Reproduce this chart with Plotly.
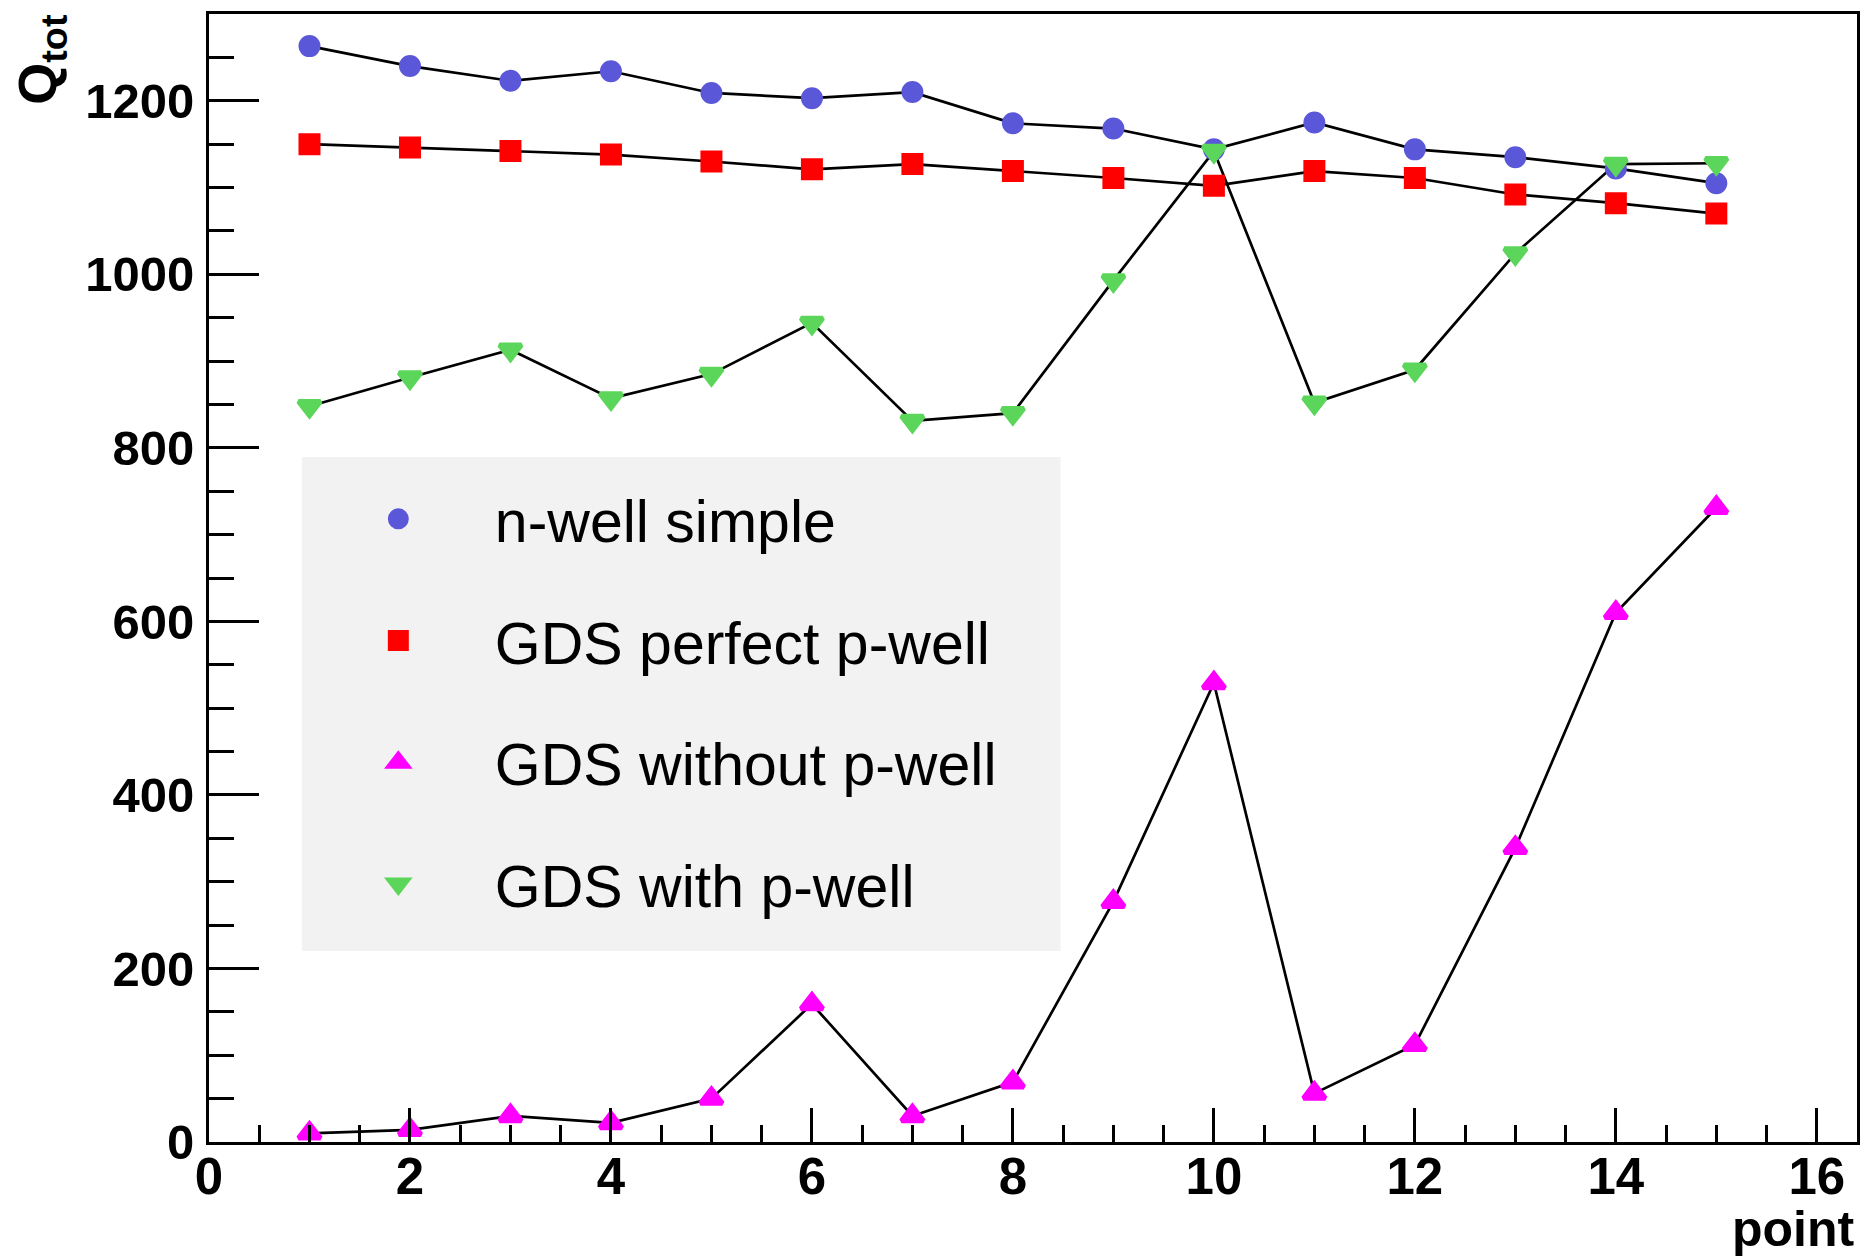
import plotly.graph_objects as go

points = list(range(1, 16))
nwell_simple = [1263, 1240, 1223, 1234, 1209, 1203, 1210, 1174, 1168, 1144, 1175, 1144, 1135, 1122, 1105]
gds_perfect = [1150, 1146, 1142, 1138, 1130, 1121, 1127, 1119, 1111, 1102, 1119, 1111, 1092, 1082, 1070]
gds_without = [10, 14, 30, 22, 50, 159, 30, 69, 277, 529, 56, 112, 339, 610, 731]
gds_with = [848, 881, 913, 857, 885, 944, 831, 840, 993, 1142, 852, 890, 1024, 1127, 1128]

series_names = ["n-well simple", "GDS perfect p-well", "GDS without p-well", "GDS with p-well"]
series_values = [nwell_simple, gds_perfect, gds_without, gds_with]
colors = ["#5a58d8", "#ff0000", "#ff00ff", "#5bd65b"]
symbols = ["circle", "square", "triangle-up", "triangle-down"]
sizes = [17, 17, 19, 19]

W, H = 1866, 1257
L, R, T, B = 209, 6, 14, 115
PW = W - L - R
PH = H - T - B

def px(x):
    return (x - L) / PW

def py(y):
    return (H - B - y) / PH

FONT = "Liberation Sans, Arial, Helvetica, sans-serif"

fig = go.Figure()
# connecting lines (not in legend)
for i, (name, vals) in enumerate(zip(series_names, series_values)):
    fig.add_trace(go.Scatter(
        x=points, y=vals, mode="lines", showlegend=False, hoverinfo="skip",
        line=dict(color="black", width=2.7),
    ))
# markers (legend entries)
for i, (name, vals) in enumerate(zip(series_names, series_values)):
    fig.add_trace(go.Scatter(
        x=points, y=vals, name=name, mode="markers",
        legendgroup=f"g{i}",
        marker=dict(color=colors[i], symbol=symbols[i], size=sizes[i],
                    line=dict(width=5, color=colors[i])),
    ))

axis_common = dict(
    showline=True, linecolor="black", linewidth=3, mirror=True,
    ticks="inside", tickcolor="black", tickwidth=2.5,
    showgrid=False, zeroline=False,
)

fig.update_xaxes(range=[0, 16.4], dtick=2, tick0=0, ticklen=34,
                 minor=dict(dtick=0.5, tick0=0, ticklen=17, ticks="inside", tickcolor="black", tickwidth=2.5, showgrid=False),
                 ticklabelstandoff=-12,
                 tickfont=dict(family=FONT, size=51, color="black", weight="bold"),
                 **axis_common)
fig.update_yaxes(range=[0, 1300], dtick=200, tick0=0, ticklen=50,
                 minor=dict(dtick=50, tick0=0, ticklen=25, ticks="inside", tickcolor="black", tickwidth=2.5, showgrid=False),
                 ticklabelstandoff=2,
                 tickfont=dict(family=FONT, size=49, color="black", weight="bold"),
                 **axis_common)

fig.add_shape(type="rect", xref="paper", yref="paper",
              x0=px(302), x1=px(1062), y0=py(951), y1=py(457),
              fillcolor="#f2f2f2", line=dict(width=0), layer="below")

fig.add_annotation(text="Q<sub>tot</sub>", xref="paper", yref="paper",
                   x=px(40), y=py(12), xanchor="center", yanchor="top",
                   textangle=-90, showarrow=False,
                   font=dict(family=FONT, size=54, color="black", weight="bold"))
fig.add_annotation(text="point", xref="paper", yref="paper",
                   x=1.0, y=py(1199), xanchor="right", yanchor="top",
                   showarrow=False,
                   font=dict(family=FONT, size=50, color="black", weight="bold"))

fig.update_layout(
    width=W, height=H,
    margin=dict(l=L, r=R, t=T, b=B),
    paper_bgcolor="white", plot_bgcolor="white",
    showlegend=True,
    legend=dict(
        x=px(302), y=py(474), xanchor="left", yanchor="top",
        bgcolor="rgba(0,0,0,0)", borderwidth=0,
        font=dict(family=FONT, size=59, color="black"),
        itemwidth=183, itemsizing="trace",
        tracegroupgap=42,
    ),
)

fig.write_html("out.html")
